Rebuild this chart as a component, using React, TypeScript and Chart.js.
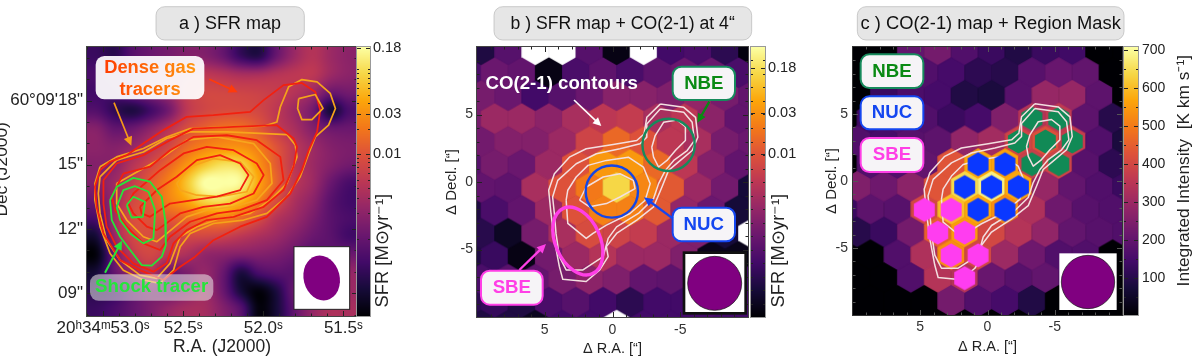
import { useEffect, useRef } from "react";
import { Chart, registerables } from "chart.js";
Chart.register(...registerables);

/* ---------- data: panel a, offsets in arcsec from 20h34m53.0s / 60d09m18s ---------- */
const raTicksA = [0, 3.75, 7.5, 11.25];
const raLabelsA = ["20ʰ34ᵐ53.0ˢ", "52.5ˢ", "52.0ˢ", "51.5ˢ"];
const decTicksA = [0, -3, -6, -9];
const decLabelsA = ["60°09'18\"", "15\"", "12\"", "09\""];
const sfrTicksA = [0.18, 0.03, 0.01];
const sfrLabelsA = ["0.18", "0.03", "0.01"];
const sfrMapRows = [
  [.18,.15,.25,.3,.33,.36,.36,.3,.18,.14,.3,.42,.48,.42,.38],
  [.22,.25,.32,.38,.42,.48,.5,.48,.45,.45,.48,.5,.5,.42,.38],
  [.2,.22,.3,.36,.42,.52,.56,.56,.55,.54,.52,.48,.42,.3,.32],
  [.24,.16,.12,.2,.32,.5,.56,.58,.58,.56,.5,.42,.32,.1,.22],
  [.36,.28,.3,.38,.48,.58,.64,.68,.68,.62,.52,.45,.36,.3,.3],
  [.38,.36,.4,.48,.56,.66,.72,.75,.75,.7,.6,.5,.42,.36,.34],
  [.36,.38,.48,.56,.65,.76,.86,.92,.9,.76,.62,.5,.42,.36,.32],
  [.36,.42,.52,.62,.72,.86,1,1,.98,.8,.64,.5,.42,.3,.22],
  [.3,.42,.56,.62,.72,.8,.9,.92,.84,.72,.58,.46,.38,.26,.2],
  [.22,.44,.58,.6,.62,.66,.7,.72,.66,.58,.48,.42,.34,.26,.22],
  [.1,.4,.56,.58,.54,.56,.56,.54,.5,.46,.42,.36,.3,.26,.2],
  [.02,.3,.5,.56,.5,.46,.4,.38,.36,.36,.34,.3,.26,.28,.3],
  [.1,.28,.4,.48,.3,.34,.4,.3,.12,.22,.26,.26,.3,.38,.4],
  [.14,.18,.28,.34,.3,.36,.42,.3,.1,.02,.12,.3,.36,.44,.42],
  [.18,.22,.28,.34,.4,.44,.44,.36,.25,.02,.1,.28,.4,.46,.45],
];
const red1 = [[1.11,-2.55],[1.89,-2.01],[2.83,-1.38],[3.92,-.76],[5.17,-.68],[6.89,-.53],[7.52,.02],[8.45,.72],[9.31,.82],[9.94,.4],[10.17,-.45],[10.02,-1.46],[9.63,-2.32],[9.31,-3.25],[8.77,-4.34],[7.67,-5.43],[6.42,-5.89],[5.17,-6.52],[4.31,-7.29],[3.61,-7.76],[2.83,-8.38],[1.73,-7.92],[.8,-7.45],[.02,-6.21],[-.3,-4.96],[-.38,-4.03],[-.14,-3.25],[.33,-2.86]];
const red2 = [[.02,-3.72],[.64,-2.94],[1.89,-2.55],[3.14,-1.85],[4.23,-1.31],[6.11,-1.23],[8.14,-1.15],[8.92,-1.77],[9.08,-2.16],[8.92,-3.09],[8.45,-4.18],[7.52,-4.96],[6.11,-5.43],[4.86,-5.58],[3.92,-6.05],[3.3,-6.67],[2.98,-7.6],[2.36,-7.99],[1.42,-7.6],[.64,-6.83],[.17,-5.89],[.02,-4.81]];
const red3 = [[.95,-3.41],[2.2,-3.09],[3.14,-2.32],[4.23,-1.7],[5.8,-1.62],[7.2,-1.85],[8.3,-2.63],[8.45,-3.72],[7.67,-4.65],[6.42,-5.12],[5.33,-5.27],[4.08,-5.66],[3.14,-6.36],[2.67,-6.98],[1.89,-6.67],[1.11,-5.89],[.56,-5.12],[.41,-4.49]];
const red4 = [[1.42,-4.34],[2.67,-3.25],[3.77,-2.47],[4.86,-2.16],[6.11,-2.32],[7.2,-2.94],[7.52,-3.48],[7.05,-4.34],[5.95,-4.81],[4.7,-4.96],[3.61,-5.27],[2.52,-6.05],[2.05,-5.89],[1.42,-5.27],[1.19,-4.81]];
const red5 = [[1.73,-4.96],[2.52,-4.18],[3.45,-3.56],[4.39,-2.78],[5.48,-2.55],[6.42,-2.94],[6.81,-3.48],[6.42,-4.18],[5.33,-4.49],[4.23,-4.65],[3.14,-4.81],[2.2,-5.43],[1.81,-5.27]];
const orange1 = [[-.14,-3.09],[.64,-2.63],[1.89,-2.24],[2.98,-1.7],[4.08,-1.31],[5.8,-1.23],[7.52,-1.2],[8.14,-1],[8.3,-.3],[8.69,.64],[9.31,.98],[10.02,.87],[10.64,.33],[10.88,-.37],[10.56,-1.15],[9.94,-1.7],[9.63,-2.47],[9.23,-3.56],[8.61,-4.49],[7.67,-5.27],[6.58,-5.58],[5.17,-5.74],[4.08,-6.21],[3.61,-6.83],[3.3,-7.92],[2.67,-8.54],[1.89,-8.38],[.95,-7.92],[.33,-7.14],[-.14,-5.89],[-.38,-4.65],[-.38,-3.87]];
const orange2 = [[-.14,-3.56],[.64,-2.78],[1.89,-2.4],[2.98,-1.77],[4.08,-1.46],[5.8,-1.46],[8.61,-1.59],[9,-2.08],[9.08,-2.63],[8.61,-3.87],[7.83,-4.65],[6.89,-5.27],[5.48,-5.51],[4.39,-5.89],[3.61,-6.36],[3.14,-7.6],[2.52,-8.3],[1.73,-8.15],[.8,-7.45],[.17,-6.52],[-.14,-5.27],[-.22,-4.34]];
const orange3 = [[.64,-3.87],[1.73,-3.25],[2.83,-2.63],[3.92,-1.85],[5.33,-1.7],[7.05,-2.01],[7.83,-2.94],[7.91,-3.87],[7.2,-4.65],[6.11,-4.96],[4.86,-5.12],[3.92,-5.43],[2.98,-6.21],[2.52,-6.59],[1.89,-6.36],[1.11,-5.58],[.64,-4.81]];
const orange4 = [[3.45,-3.87],[4.08,-3.09],[5.17,-2.71],[6.42,-2.86],[7.05,-3.56],[6.73,-4.26],[5.48,-4.49],[4.39,-4.42],[3.61,-4.18]];
const orange5 = [[9.16,.09],[9.94,.28],[10.3,-.37],[9.78,-.89],[9.31,-.89],[9.11,-.37]];
const green1 = [[.33,-4.65],[.64,-4.03],[1.42,-3.61],[2.2,-3.79],[2.75,-4.49],[2.91,-5.58],[2.94,-6.75],[2.75,-7.29],[2.28,-7.71],[1.81,-7.68],[1.27,-6.98],[.8,-6.36],[.41,-5.58]];
const green2 = [[.64,-4.96],[.95,-4.18],[1.5,-4],[2.13,-4.26],[2.44,-5.12],[2.36,-6.44],[1.89,-6.67],[1.27,-6.21],[.8,-5.58]];
const green3 = [[1.11,-4.88],[1.42,-4.49],[1.97,-4.73],[1.86,-5.43],[1.34,-5.46]];

/* ---------- data: panels b and c, offsets in arcsec ---------- */
const offsetTicks = [5, 0, -5];
const offsetLabels = ["5", "0", "-5"];
const sfrLevelTicksB = [0.922, 0.755, 0.604];
const sfrLabelsB = ["0.18", "0.03", "0.01"];
const intensityTicks = [100, 200, 300, 400, 500, 600, 700];
const intensityLabels = ["100", "200", "300", "400", "500", "600", "700"];
const sfrHexRows = [
  [.12,.25,null,null,.25,.03,null,.2,.22,.15,.02],
  [.22,.3,.28,.03,.22,.27,.22,.27,.3,.3,.22],
  [.33,.3,.2,.25,.3,.37,.37,.35,.4,.33,.28],
  [.33,.42,.42,.38,.45,.5,.52,.45,.5,.38,.28],
  [.32,.36,.36,.42,.55,.66,.6,.5,.45,.33,.3],
  [.25,.33,.3,.42,.6,.77,.77,.66,.5,.36,.28],
  [.28,.27,.45,.6,.7,.9,.73,.62,.42,.32,.1],
  [.12,.22,.28,.42,.6,.72,.72,.62,.4,.3,.1],
  [.14,.06,.33,.45,.58,.55,.52,.42,.35,.1,null],
  [.12,.18,.03,.32,.42,.48,.42,.42,.35,.04,.04],
  [.22,.26,.28,.33,.38,.35,.28,.27,.28,.2,.2],
  [.15,.17,.12,.22,.25,.2,.15,.2,.2,.22,.2],
  [.12,.12,.05,.2,.2,null,.2,.2,.2,.2,.2],
];
const coHexRows = [
  [0,0,200,230,170,130,90,130,140,0,0],
  [0,0,160,170,150,110,100,180,210,200,0],
  [0,130,160,150,90,80,180,290,290,190,0],
  [0,140,170,170,130,150,250,340,360,190,100],
  [170,150,180,190,280,310,390,420,370,170,80],
  [0,170,170,200,430,570,560,380,390,180,110],
  [250,220,270,430,640,680,570,290,200,170,130],
  [130,190,180,400,600,570,530,330,220,180,170],
  [100,130,230,450,550,400,340,280,200,180,170],
  [0,0,170,330,530,400,300,220,170,170,0],
  [0,0,170,340,340,210,180,200,170,0,0],
  [0,0,0,0,230,170,150,90,0,0,0],
];
const co1 = [[-3.52,5.77],[-5.26,5.53],[-6.13,4.79],[-6.3,3.32],[-5.88,2.33],[-5.01,1.6],[-4.14,.86],[-3.65,-.37],[-3.03,-1.84],[-1.79,-2.83],[-.3,-3.81],[.45,-4.79],[.32,-5.53],[.94,-6.51],[1.94,-7.37],[3.67,-7.2],[3.92,-6.27],[4.29,-4.3],[4.54,-2.33],[4.71,-.61],[4.29,.61],[3.18,1.84],[1.94,2.46],[-.05,2.78],[-1.79,3.07],[-2.33,3.56],[-2.53,4.79]];
const co2 = [[-3.52,5.41],[-5.26,5.16],[-5.88,4.42],[-6.05,3.07],[-5.51,2.33],[-4.52,1.6],[-3.9,.86],[-3.4,-.12],[-3.03,-1.23],[-1.91,-2.33],[-.3,-3.32],[.32,-4.18],[.69,-5.53],[2.18,-6.51],[3.42,-6.51],[3.92,-5.53],[4.17,-3.81],[4.29,-2.33],[4.42,-1.11],[4.04,.12],[2.68,1.35],[1.19,2.09],[-.55,2.46],[-2.03,2.83],[-2.53,3.32],[-2.53,4.3]];
const co3 = [[3.42,-1.35],[3.3,-3.07],[1.94,-4.18],[1.44,-3.81],[.45,-3.19],[-1.29,-2.33],[-2.41,-1.35],[-2.78,-.12],[-2.28,1.11],[-1.17,1.84],[.45,1.6],[1.81,1.23],[2.68,.37],[3.3,-.61]];
const co4 = [[2.43,-1.35],[1.94,-.37],[.69,.37],[-.55,.61],[-1.54,.12],[-1.66,-.49],[-.55,-1.11],[.45,-1.6],[1.69,-1.84]];
const co5 = [[-2.9,2.58],[-3.15,3.44],[-3.77,4.42],[-4.76,4.59],[-5.38,4.1],[-5.38,3.07],[-4.64,2.33],[-4.02,1.6],[-3.4,1.11],[-3.03,1.84]];
const blueCells = [[0,4],[0,5],[0,6],[1,5],[1,6],[-1,5],[-1,6]];
const pinkCells = [[-1,3],[-1,4],[-2,3],[-2,4],[-3,4],[-3,5],[-4,4]];
const greenCells = [[3,7],[3,8],[2,6],[2,7],[2,8],[1,7],[1,8]];
const regionNUC = { x: 0.05, y: -0.71, rx: 1.93, ry: 1.93, tilt: 0 };
const regionNBE = { x: -4.14, y: 2.75, rx: 1.93, ry: 1.93, tilt: 0 };
const regionSBE = { x: 2.56, y: -4.37, rx: 1.65, ry: 2.65, tilt: -0.42 };

/* ---------- helpers ---------- */
const FONT = '"Liberation Sans"';
const H = 364;
const stops = ["#000004","#160b39","#420a68","#6a176e","#932667","#bc3754","#dd513a","#f37819","#fca50a","#f6d746","#fcffa4"].map((h) => [parseInt(h.slice(1,3),16), parseInt(h.slice(3,5),16), parseInt(h.slice(5,7),16)]);
function rgbOf(f: number) {
  const t = Math.max(0, Math.min(1, f)) * 10;
  const i = Math.min(9, Math.floor(t));
  const u = t - i;
  return [0,1,2].map((k) => Math.round(stops[i][k] + (stops[i+1][k]-stops[i][k])*u));
}
const levelColour = (v: number) => { const c = rgbOf(v); return `rgb(${c[0]},${c[1]},${c[2]})`; };
const intensityColour = (v: number) => { if (v <= 0) return "#000004"; const c = rgbOf((v-2)/705); return `rgb(${c[0]},${c[1]},${c[2]})`; };

const sprites = new Map<string, HTMLCanvasElement>();
function hexSprite(colour: string, w: number, h: number) {
  const key = colour + w.toFixed(2) + h.toFixed(2);
  if (sprites.has(key)) return sprites.get(key)!;
  const c = document.createElement("canvas");
  c.width = Math.ceil(w) + 2; c.height = Math.ceil(h) + 2;
  const g = c.getContext("2d")!;
  const cx = c.width/2, cy = c.height/2;
  g.fillStyle = colour;
  g.beginPath();
  g.moveTo(cx, cy-h/2); g.lineTo(cx+w/2, cy-h/4); g.lineTo(cx+w/2, cy+h/4); g.lineTo(cx, cy+h/2); g.lineTo(cx-w/2, cy+h/4); g.lineTo(cx-w/2, cy-h/4);
  g.closePath(); g.fill();
  sprites.set(key, c);
  return c;
}
const latticeX = (j: number, k: number) => (Math.abs(j) % 2 === 1 ? 10.7 : 9.7) - 2*k;
const latticeY = (j: number) => -0.45 + 1.7*j;
const hexData = (rows: (number|null)[][]) => rows.flatMap((r, idx) => { const j = 6-idx; return r.map((v, k) => ({ x: latticeX(j,k), y: latticeY(j), v })); });
const cellData = (cells: number[][]) => cells.map(([j,k]) => ({ x: latticeX(j,k), y: latticeY(j) }));
function hexDataset(data: any[], colour: (v:any)=>string, flatWidth: number, order: number) {
  return {
    data, order, clip: 0, showLine: false, pointRadius: 40, pointBorderWidth: 0,
    pointStyle: (ctx: any) => {
      const s = ctx.chart.scales;
      const w = Math.abs(s.x.getPixelForValue(flatWidth) - s.x.getPixelForValue(0)) + 0.7;
      return hexSprite(colour(ctx.raw?.v), w, (w * 2) / Math.sqrt(3));
    },
  };
}
function lineDataset(pts: number[][], colour: string, width: number, order: number) {
  const data = [...pts, pts[0]].map(([x,y]) => ({ x, y }));
  return { data, order, showLine: true, pointRadius: 0, borderColor: colour, borderWidth: width, borderJoinStyle: "round", tension: 0, clip: 0 };
}
function makeAxis(o: any) {
  const horiz = o.position === "bottom";
  return {
    type: o.type ?? "linear", position: o.position, min: o.min, max: o.max, reverse: !!o.reverse, display: o.display ?? true,
    grid: { display: false, drawTicks: false }, border: { display: false },
    title: o.title ? { display: true, text: o.title, color: o.titleColor ?? "#222", padding: { top: o.titlePad ?? 0, bottom: o.titlePad ?? 0 }, font: { family: FONT, size: o.titleSize ?? 13 } } : { display: false },
    ticks: { autoSkip: false, maxRotation: 0, minRotation: 0, padding: o.pad ?? 4, color: o.color ?? "#222", font: { family: FONT, size: o.size ?? 13 }, callback: (_: any, i: number) => (o.labels ? o.labels[i] : "") },
    afterBuildTicks: (s: any) => { s.ticks = (o.values ?? []).map((value: number) => ({ value })); },
    afterFit: (s: any) => {
      if (horiz) s.height = o.box; else s.width = o.box;
      s.paddingLeft = 0; s.paddingRight = 0; s.paddingTop = 0; s.paddingBottom = 0;
    },
  };
}
function frameTicks(ctx: any, chart: any, minorX: number[], minorY: number[], colour: string, frame: string) {
  const a = chart.chartArea, sx = chart.scales.x, sy = chart.scales.y;
  ctx.save();
  ctx.strokeStyle = colour; ctx.lineWidth = 1;
  ctx.beginPath();
  const tx = (v: number, l: number) => { const p = Math.round(sx.getPixelForValue(v))+.5; ctx.moveTo(p,a.bottom); ctx.lineTo(p,a.bottom-l); ctx.moveTo(p,a.top); ctx.lineTo(p,a.top+l); };
  const ty = (v: number, l: number) => { const p = Math.round(sy.getPixelForValue(v))+.5; ctx.moveTo(a.left,p); ctx.lineTo(a.left+l,p); ctx.moveTo(a.right,p); ctx.lineTo(a.right-l,p); };
  sx.ticks.forEach((t: any) => tx(t.value,5)); sy.ticks.forEach((t: any) => ty(t.value,5));
  minorX.forEach((v) => tx(v,2.5)); minorY.forEach((v) => ty(v,2.5));
  ctx.stroke();
  ctx.strokeStyle = frame;
  ctx.strokeRect(a.left-.5,a.top-.5,a.right-a.left+1,a.bottom-a.top+1);
  ctx.restore();
}
function roundBox(g: any, x0: number, y0: number, x1: number, y1: number, r: number, fill: string, stroke?: string, lw = 2) {
  g.beginPath(); g.roundRect(x0,y0,x1-x0,y1-y0,r);
  g.fillStyle = fill; g.fill();
  if (stroke) { g.strokeStyle = stroke; g.lineWidth = lw; g.stroke(); }
}
function text(g: any, s: string, x: number, y: number, size: number, colour: any, bold = false) {
  g.font = `${bold ? "bold " : ""}${size}px ${FONT}`;
  g.fillStyle = colour; g.textAlign = "center"; g.textBaseline = "middle";
  g.fillText(s,x,y);
}
function vtext(g: any, s: string, x: number, y: number, size: number, colour: string) {
  g.save(); g.translate(x,y); g.rotate(-Math.PI/2); text(g,s,0,0,size,colour); g.restore();
}
function arrow(g: any, x0: number, y0: number, x1: number, y1: number, colour: string, lw: number, head: number) {
  const a = Math.atan2(y1-y0,x1-x0);
  g.strokeStyle = colour; g.fillStyle = colour; g.lineWidth = lw;
  g.beginPath(); g.moveTo(x0,y0); g.lineTo(x1-Math.cos(a)*head*.8,y1-Math.sin(a)*head*.8); g.stroke();
  g.beginPath(); g.moveTo(x1,y1);
  g.lineTo(x1-head*Math.cos(a-.45),y1-head*Math.sin(a-.45));
  g.lineTo(x1-head*Math.cos(a+.45),y1-head*Math.sin(a+.45));
  g.closePath(); g.fill();
}
function tag(g: any, x0: number, y0: number, x1: number, y1: number, s: string, colour: string, textColour: string) {
  roundBox(g,x0,y0,x1,y1,26,"#f6f4f7",colour,6);
  text(g,s,(x0+x1)/2,(y0+y1)/2+1,56,textColour,true);
}
const overlayPlugin = (offset: number, canvasLeft: number, draw: (g:any, chart:any)=>void) => ({
  id: "overlay" + offset,
  afterDraw(chart: any) {
    const g = chart.ctx;
    g.save(); g.translate(offset-canvasLeft,0); g.scale(1/3,1/3);
    draw(g, chart);
    g.restore();
  },
});
const ticksPlugin = (minorX: number[], minorY: number[], colour: string, frame: string) => ({
  id: "frameTicks",
  afterDatasetsDraw(chart: any) { frameTicks(chart.ctx, chart, minorX, minorY, colour, frame); },
});
const backgroundPlugin = (colour: string) => ({
  id: "panelBackground",
  beforeDatasetsDraw(chart: any) { const a = chart.chartArea; chart.ctx.fillStyle = colour; chart.ctx.fillRect(a.left,a.top,a.right-a.left,a.bottom-a.top); },
});
const regionsPlugin = (regions: [any,string,number][]) => ({
  id: "regions",
  afterDatasetsDraw(chart: any) {
    const g = chart.ctx, sx = chart.scales.x, sy = chart.scales.y;
    regions.forEach(([r,colour,lw]) => {
      const px = sx.getPixelForValue(r.x), py = sy.getPixelForValue(r.y);
      const rx = Math.abs(sx.getPixelForValue(r.rx)-sx.getPixelForValue(0)), ry = Math.abs(sy.getPixelForValue(r.ry)-sy.getPixelForValue(0));
      g.save(); g.strokeStyle = colour; g.lineWidth = lw; g.beginPath(); g.ellipse(px,py,rx,ry,r.tilt,0,Math.PI*2); g.stroke(); g.restore();
    });
  },
});
function catmull(a: number, b: number, c: number, d: number, t: number) {
  return 0.5*(2*b+(c-a)*t+(2*a-5*b+4*c-d)*t*t+(3*b-a-3*c+d)*t*t*t);
}
const mapPlugin = {
  id: "sfrMap",
  beforeDatasetsDraw(chart: any) {
    const a = chart.chartArea, sx = chart.scales.x, sy = chart.scales.y;
    const w = Math.round(a.right-a.left), h = Math.round(a.bottom-a.top);
    const off = document.createElement("canvas"); off.width = w; off.height = h;
    const og = off.getContext("2d")!; const img = og.createImageData(w,h);
    const x0 = -0.33, dx = 0.844, y0 = 2.08, dy = -0.84;
    const rows = sfrMapRows.length, cols = sfrMapRows[0].length;
    const at = (r: number, c: number) => sfrMapRows[Math.max(0,Math.min(rows-1,r))][Math.max(0,Math.min(cols-1,c))];
    for (let py = 0; py < h; py++) {
      const ry = (sy.getValueForPixel(a.top+py)-y0)/dy; const r = Math.floor(ry), tr = ry-r;
      for (let px = 0; px < w; px++) {
        const cx = (sx.getValueForPixel(a.left+px)-x0)/dx; const c = Math.floor(cx), tc = cx-c;
        const col = [-1,0,1,2].map((d) => catmull(at(r+d,c-1),at(r+d,c),at(r+d,c+1),at(r+d,c+2),tc));
        const v = catmull(col[0],col[1],col[2],col[3],tr);
        const rgb = rgbOf(v);
        const i = (py*w+px)*4;
        img.data[i]=rgb[0]; img.data[i+1]=rgb[1]; img.data[i+2]=rgb[2]; img.data[i+3]=255;
      }
    }
    og.putImageData(img,0,0);
    chart.ctx.drawImage(off,a.left,a.top);
  },
};
const barPlugin = (minor: number[]) => ({
  id: "colourBar",
  afterDatasetsDraw(chart: any) {
    const g = chart.ctx, a = chart.chartArea, sy = chart.scales.y;
    const h = a.bottom-a.top;
    for (let i = 0; i < h; i++) {
      const c = rgbOf((i+.5)/h);
      g.fillStyle = `rgb(${c[0]},${c[1]},${c[2]})`;
      g.fillRect(a.left,a.bottom-i-1,a.right-a.left,1);
    }
    g.strokeStyle = "#222"; g.lineWidth = 1; g.beginPath();
    const tick = (v: number, l: number) => { const p = Math.round(sy.getPixelForValue(v))+.5; g.moveTo(a.left,p); g.lineTo(a.left+l,p); g.moveTo(a.right,p); g.lineTo(a.right-l,p); };
    sy.ticks.forEach((t: any) => tick(t.value,4));
    minor.forEach((v) => tick(v,2));
    g.stroke();
    g.strokeStyle = "#999"; g.strokeRect(a.left-.5,a.top-.5,a.right-a.left+1,a.bottom-a.top+1);
  },
});
const step = (from: number, to: number, by: number) => { const out: number[] = []; for (let v = from; v <= to+1e-9; v += by) out.push(v); return out; };
const baseOptions = (padding: any, scales: any) => ({
  responsive: false, animation: false as const, devicePixelRatio: 1, events: [] as string[],
  layout: { padding },
  plugins: { legend: { display: false }, tooltip: { enabled: false }, title: { display: false } },
  scales,
});

/* ---------- charts ---------- */
const specs = [
  { left: 0, width: 372, build: (cv: HTMLCanvasElement) => new Chart(cv, {
    type: "scatter",
    data: { datasets: [
      lineDataset(orange1,"#f5a31a",1.7,30), lineDataset(orange2,"#f7a51c",1.7,29), lineDataset(red1,"#f2200f",1.8,28),
      lineDataset(red2,"#f2200f",1.8,27), lineDataset(orange3,"#f7a51c",1.7,26), lineDataset(red3,"#f2200f",1.8,25),
      lineDataset(red4,"#f2200f",1.8,24), lineDataset(orange4,"#f7a51c",1.7,23), lineDataset(red5,"#f2200f",1.8,22),
      lineDataset(orange5,"#f5a31a",1.7,21),
      lineDataset(green1,"#25e53a",1.8,3), lineDataset(green2,"#25e53a",1.8,2), lineDataset(green3,"#25e53a",1.8,1),
    ] as any },
    options: baseOptions({ top: 47, right: 15, left: 0, bottom: 0 }, {
      x: makeAxis({ position: "bottom", min: -0.75, max: 11.89, values: raTicksA, labels: raLabelsA, box: H-316, size: 17, pad: 2, title: "R.A. (J2000)", titleSize: 17.5, titlePad: 6 }),
      y: makeAxis({ position: "left", min: -10.06, max: 2.5, values: decTicksA, labels: decLabelsA, box: 87, size: 17, pad: 4 }),
    }) as any,
    plugins: [mapPlugin, ticksPlugin(step(-0.75,11.25,0.75),step(-10,2,1),"#222","#444"), overlayPlugin(0,0,(g) => {
      vtext(g,"Dec (J2000)",6,508,52,"#222");
      roundBox(g,468,20,913,120,26,"#e6e6e6","#b5b5b5",2);
      text(g,"a ) SFR map",690,73,54,"#111");
      roundBox(g,287,168,613,298,26,"rgba(255,255,255,.93)");
      const gr = g.createLinearGradient(300,0,600,0); gr.addColorStop(0,"#ff3a00"); gr.addColorStop(1,"#ff9a10");
      text(g,"Dense gas",450,203,55,gr,true); text(g,"tracers",450,270,55,gr,true);
      arrow(g,628,238,713,277,"#ff3a0a",5,30);
      arrow(g,342,308,394,437,"#f59a18",5,30);
      arrow(g,315,818,366,722,"#25e53a",6,30);
      roundBox(g,270,823,640,902,26,"rgba(235,235,235,.55)");
      text(g,"Shock tracer",455,862,56,"#25e53a",true);
      g.fillStyle = "#fff"; g.fillRect(882,740,167,188); g.strokeStyle = "#222"; g.lineWidth = 3; g.strokeRect(882,740,167,188);
      g.fillStyle = "#800080"; g.beginPath(); g.ellipse(965,834,54,68,-0.25,0,Math.PI*2); g.fill();
    })],
  }) },
  { left: 350, width: 70, build: (cv: HTMLCanvasElement) => new Chart(cv, {
    type: "scatter", data: { datasets: [] },
    options: baseOptions({ top: 47, bottom: H-316, left: 7, right: 0 }, {
      x: { display: false, type: "linear", min: 0, max: 1 },
      y: makeAxis({ type: "logarithmic", position: "right", min: 1.22e-4, max: 0.184, values: sfrTicksA, labels: sfrLabelsA, box: 50, size: 14.5, pad: 3 }),
    }) as any,
    plugins: [barPlugin([0.1,0.09,0.08,0.07,0.06,0.05,0.04,0.02,0.009,0.008,0.007,0.006,0.005,0.004,0.003,0.002,0.001]), overlayPlugin(0,350,(g) => vtext(g,"SFR [M⊙yr⁻¹]",1148,752,55,"#222"))],
  }) },
  { left: 420, width: 370, build: (cv: HTMLCanvasElement) => new Chart(cv, {
    type: "scatter",
    data: { datasets: [
      hexDataset(hexData(sfrHexRows),(v) => (v === null ? "#ffffff" : levelColour(v)),2,20),
      lineDataset(co1,"#f3dfe0",1.5,5), lineDataset(co2,"#f3dfe0",1.5,4), lineDataset(co3,"#f3dfe0",1.5,3), lineDataset(co4,"#f3dfe0",1.5,2), lineDataset(co5,"#f3dfe0",1.5,1),
    ] as any },
    options: baseOptions({ top: 47, right: 42, left: 0, bottom: 0 }, {
      x: makeAxis({ position: "bottom", min: -10, max: 10, reverse: true, values: offsetTicks, labels: offsetLabels, box: H-317, size: 14, pad: 5, color: "#333", title: "Δ R.A. [“]", titleSize: 14.5, titlePad: 6 }),
      y: makeAxis({ position: "left", min: -10, max: 10, values: offsetTicks, labels: offsetLabels, box: 57, size: 14, pad: 4, color: "#333", title: "Δ Decl. [“]", titleSize: 15, titlePad: 23 }),
    }) as any,
    plugins: [backgroundPlugin("#2a0b4e"), regionsPlugin([[regionNUC,"#1446e6",2.4],[regionNBE,"#168a5c",2.4],[regionSBE,"#ff3fe6",3.4]]), ticksPlugin(step(-9,9,1),step(-9,9,1),"#222","#444"), overlayPlugin(420,420,(g) => {
      roundBox(g,222,20,995,120,26,"#e6e6e6","#b5b5b5",2);
      text(g,"b ) SFR map + CO(2-1) at 4“",608,73,53,"#111");
      text(g,"CO(2-1) contours",425,252,56,"#fff",true);
      arrow(g,462,300,544,378,"#fff",5,28);
      tag(g,758,200,945,300,"NBE","#168a5c","#0a8a14");
      arrow(g,868,305,832,368,"#0a8a14",7,30);
      tag(g,758,623,945,724,"NUC","#1446f0","#1446f0");
      arrow(g,758,655,672,592,"#1446f0",7,30);
      tag(g,183,812,368,914,"SBE","#ff3fe6","#ff3fe6");
      arrow(g,298,810,378,732,"#ff3fe6",7,30);
      g.fillStyle = "#fff"; g.fillRect(792,758,185,182); g.strokeStyle = "#111"; g.lineWidth = 8; g.strokeRect(792,758,185,182);
      g.fillStyle = "#800080"; g.lineWidth = 2; g.beginPath(); g.arc(884,850,81,0,Math.PI*2); g.fill(); g.stroke();
    })],
  }) },
  { left: 745, width: 70, build: (cv: HTMLCanvasElement) => new Chart(cv, {
    type: "scatter", data: { datasets: [] },
    options: baseOptions({ top: 47, bottom: H-317, left: 6, right: 0 }, {
      x: { display: false, type: "linear", min: 0, max: 1 },
      y: makeAxis({ position: "right", min: 0, max: 1, values: sfrLevelTicksB, labels: sfrLabelsB, box: 50, size: 14.5, pad: 3 }),
    }) as any,
    plugins: [barPlugin(step(0.05,0.95,0.05)), overlayPlugin(420,745,(g) => vtext(g,"SFR [M⊙yr⁻¹]",1076,752,55,"#222"))],
  }) },
  { left: 810, width: 354, build: (cv: HTMLCanvasElement) => new Chart(cv, {
    type: "scatter",
    data: { datasets: [
      hexDataset(hexData([...coHexRows]),(v) => intensityColour(v),2,20),
      hexDataset(cellData(greenCells),() => "#118a56",1.5,10),
      lineDataset(co1,"#f3dfe0",1.5,9), lineDataset(co2,"#f3dfe0",1.5,8), lineDataset(co3,"#f3dfe0",1.5,7), lineDataset(co5,"#f3dfe0",1.5,6),
      hexDataset(cellData(blueCells),() => "#0a38ff",1.5,2),
      hexDataset(cellData(pinkCells),() => "#ff3df0",1.5,1),
    ] as any },
    options: baseOptions({ top: 47, right: 42, left: 0, bottom: 0 }, {
      x: makeAxis({ position: "bottom", min: -10, max: 10, reverse: true, values: offsetTicks, labels: offsetLabels, box: H-315, size: 14, pad: 4, color: "#333", title: "Δ R.A. [“]", titleSize: 14.5, titlePad: 8 }),
      y: makeAxis({ position: "left", min: -10, max: 10, values: offsetTicks, labels: offsetLabels, box: 43, size: 14, pad: 5, color: "#333", title: "Δ Decl. [“]", titleSize: 15, titlePad: 13 }),
    }) as any,
    plugins: [backgroundPlugin("#000004"), ticksPlugin(step(-9,9,1),step(-9,9,1),"#555","#333"), overlayPlugin(810,810,(g) => {
      roundBox(g,142,20,942,120,26,"#e6e6e6","#b5b5b5",2);
      text(g,"c ) CO(2-1) map + Region Mask",542,73,55,"#111");
      tag(g,152,163,340,264,"NBE","#168a5c","#0a8a14");
      tag(g,152,289,340,388,"NUC","#1446f0","#1446f0");
      tag(g,152,414,340,516,"SBE","#ff3fe6","#ff3fe6");
      g.fillStyle = "#fff"; g.fillRect(748,760,172,170);
      g.fillStyle = "#800080"; g.strokeStyle = "#111"; g.lineWidth = 2; g.beginPath(); g.arc(834,846,80,0,Math.PI*2); g.fill(); g.stroke();
    })],
  }) },
  { left: 1118, width: 82, build: (cv: HTMLCanvasElement) => new Chart(cv, {
    type: "scatter", data: { datasets: [] },
    options: baseOptions({ top: 47, bottom: H-315, left: 6, right: 0 }, {
      x: { display: false, type: "linear", min: 0, max: 1 },
      y: makeAxis({ position: "right", min: 2, max: 707, values: intensityTicks, labels: intensityLabels, box: 62, size: 14, pad: 4 }),
    }) as any,
    plugins: [barPlugin(step(50,650,100)), overlayPlugin(810,1118,(g) => vtext(g,"Integrated Intensity  [K km s⁻¹]",1124,512,52,"#222"))],
  }) },
];

export default function App() {
  const refs = useRef<(HTMLCanvasElement | null)[]>([]);
  useEffect(() => {
    const charts = specs.map((s, i) => s.build(refs.current[i]!));
    return () => charts.forEach((c) => c.destroy());
  }, []);
  return (
    <div style={{ position: "absolute", left: 0, top: 0, width: 1200, height: H, overflow: "hidden", background: "#fff" }}>
      {specs.map((s, i) => (
        <canvas key={i} ref={(el) => { refs.current[i] = el; }} width={s.width} height={H} style={{ position: "absolute", left: s.left, top: 0, width: s.width, height: H }} />
      ))}
    </div>
  );
}
